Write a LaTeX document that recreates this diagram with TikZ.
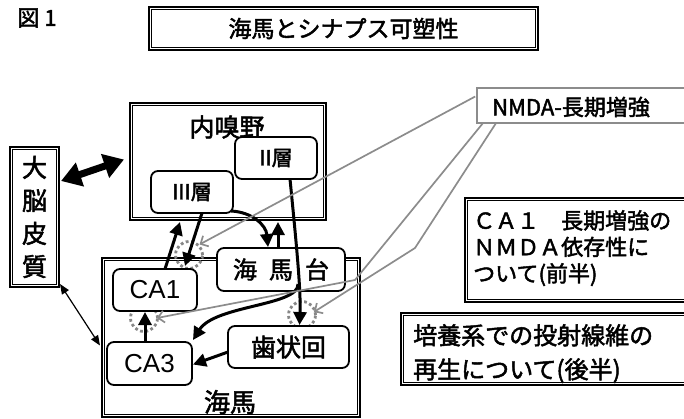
\documentclass[tikz,border=0pt]{standalone}
\usepackage{fontspec}
\setmainfont{Noto Sans CJK JP}[FakeBold=2]
\newfontfamily\arialf{Liberation Sans}
\usetikzlibrary{arrows.meta,calc}
\definecolor{gline}{RGB}{140,140,140}
\definecolor{gdot}{RGB}{135,135,135}
\newcommand\fsz[2]{\fontsize{#1}{#2}\selectfont}
\begin{document}
\begin{tikzpicture}[x=1pt,y=-1pt,
 dbox/.style={draw, line width=1.1pt, inner sep=0pt, outer sep=0pt},
 inbox/.style={draw, line width=0.9pt},
 rbox/.style={draw, fill=white, line width=1.8pt, rounded corners=7pt, inner sep=0pt, outer sep=0pt},
 blk/.style={line width=3pt, -{Triangle[length=13pt,width=13pt]}},
 gry/.style={draw=gline, line width=1.7pt, -{Straight Barb[length=6pt,width=12pt]}},
 syn/.style={circle, draw=gdot, line width=2.8pt, dash pattern=on 2.8pt off 2.6pt, minimum size=27pt, inner sep=0pt},
 lbl/.style={inner sep=0pt}
]
\useasboundingbox (0,0) rectangle (684,418);
\clip (0,0) rectangle (684,418);

% title and figure number
\node[lbl, font=\fsz{22}{22}] (figno) at (37,18) {図 1};
\node[dbox, minimum width=389pt, minimum height=43pt, font=\fsz{23}{23}] (title) at (343.5,28.5) {海馬とシナプス可塑性};

% big boxes
\node[dbox, minimum width=196pt, minimum height=117pt] (ento) at (228,161.5) {};
\node[lbl, font=\fsz{25}{25}] (entotxt) at (227,127) {内嗅野};
\node[dbox, minimum width=49pt, minimum height=140pt, align=center, font=\fsz{25}{33}] (cortex) at (34.5,217) {大\\脳\\皮\\質};
\node[dbox, minimum width=258pt, minimum height=159pt] (hippo) at (231,337.5) {};
\node[lbl, font=\fsz{26}{26}] (hippotxt) at (230,402) {海馬};

% right boxes
\node[draw=gline, line width=1.6pt, minimum width=243pt, minimum height=35pt, inner sep=0pt] (nmda) at (598.5,105.5) {};
\node[lbl, anchor=west, font=\fsz{22}{22}] (nmdatxt) at (492,107) {NMDA-長期増強};
\node[dbox, minimum width=255pt, minimum height=104pt] (boxa) at (592.5,250) {};
\node[lbl, anchor=north west, align=left, font=\fsz{22}{26.5}] (atxt) at (473,210) {ＣＡ１　長期増強の\\ＮＭＤＡ依存性に\\ついて(前半)};
\node[dbox, minimum width=319pt, minimum height=72pt] (boxb) at (560.5,349) {};
\node[lbl, anchor=north west, align=left, font=\fsz{24}{34}] (btxt) at (413,324) {培養系での投射線維の\\再生について(後半)};

% inner lines of the double borders
\foreach \n in {title,ento,cortex,hippo,boxa,boxb}
  \draw[inbox] ($(\n.north west)+(2.5,2.5)$) rectangle ($(\n.south east)+(-2.5,-2.5)$);

% synapse circles
\node[syn] (s1) at (189,255) {};
\node[syn] (s2) at (144,318) {};
\node[syn] (s3) at (302,315) {};

% rounded boxes
\node[rbox, minimum width=82pt, minimum height=42pt, font=\fsz{21}{21}] (ii) at (276,158) {II層};
\node[rbox, minimum width=82pt, minimum height=42pt, font=\fsz{21}{21}] (iii) at (192,192) {III層};
\node[rbox, minimum width=84pt, minimum height=42pt, font=\arialf\fsz{26}{26}] (ca1) at (155,290) {CA1};
\node[rbox, minimum width=128pt, minimum height=43pt, font=\fsz{24}{24}] (sub) at (281,269.5) {海\hspace{12pt}馬\hspace{12pt}台};
\node[rbox, minimum width=121pt, minimum height=42pt, font=\fsz{25}{25}] (dg) at (288.5,347) {歯状回};
\node[rbox, minimum width=85pt, minimum height=43pt, font=\arialf\fsz{26}{26}] (ca3) at (149.5,363.5) {CA3};

% cortex connections
\draw[line width=7pt, {Triangle[length=20pt,width=24pt]}-{Triangle[length=20pt,width=24pt]}] ($(cortex.east)+(2,-36)$) -- ($(ento.west)+(-6,-2)$);
\draw[line width=1.2pt, {Triangle[length=10pt,width=8pt]}-{Triangle[length=10pt,width=8pt]}] ($(cortex.south east)+(1,-3)$) -- ($(hippo.west)+(-2,8)$);

% black pathways
\draw[blk] ($(ca1.north)+(10,0)$) -- ($(ento.south)+(-48,2)$);
\draw[blk] ($(iii.south)+(10,0)$) -- ($(ca1.north)+(30,-3)$);
\draw[blk] ($(iii.south east)+(-2,-2)$) .. controls (252,212) and (266,225) .. ($(sub.north)+(-13,-1)$);
\draw[blk] ($(sub.north)+(-3,0)$) -- ($(ento.south)+(50,2)$);
\draw[blk] ($(ii.south)+(14,0)$) .. controls (296,240) and (301,290) .. ($(dg.north)+(11,-1)$);
\coordinate (branch) at (298,284);
\draw[blk] (branch) .. controls (299,306) and (215,305) .. ($(ca3.north east)+(1,-2)$);
\draw[blk] ($(dg.west)+(0,5)$) -- ($(ca3.east)+(1,1)$);
\draw[blk] ($(ca3.north)+(-4.5,0)$) -- ($(ca1.south)+(-10,1)$);

% grey pointers
\coordinate (g2bend) at (355,280);
\coordinate (g3bend) at (415,248);
\draw[gry] ($(nmda.west)+(-1,-9)$) -- (s1.north east);
\draw[gry] ($(nmda.south west)+(7,-1)$) -- (g2bend) -- ($(s2.east)+(-2,0)$);
\draw[gry] ($(nmda.south west)+(20,-1)$) -- (g3bend) -- ($(s3.east)+(-3,-3)$);
\end{tikzpicture}
\end{document}
